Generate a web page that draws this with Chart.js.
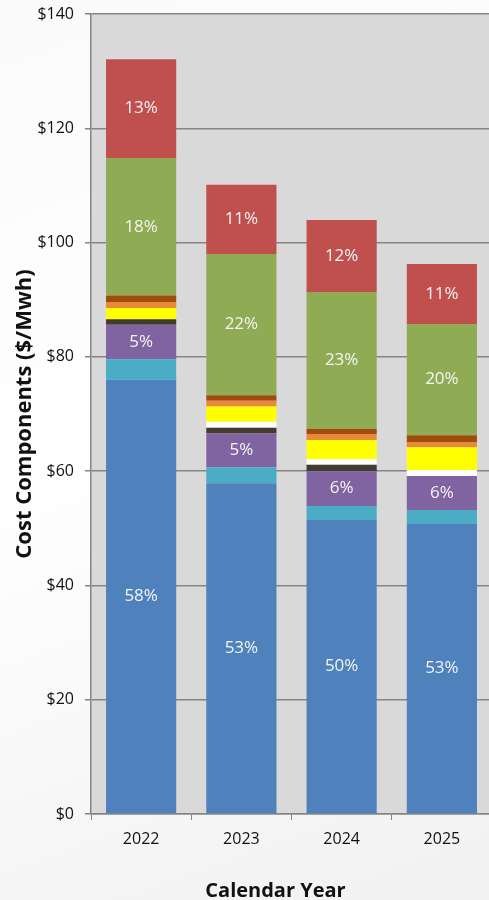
<!DOCTYPE html>
<html>
<head>
<meta charset="utf-8">
<script src="https://cdn.jsdelivr.net/npm/chart.js@4"></script>
<style>
html,body{margin:0;padding:0;overflow:hidden;}
body{width:489px;height:900px;background:linear-gradient(160deg,#fafafa 0%,#ffffff 45%,#f1f1f1 100%);}
#wrap{width:492px;height:900px;}
</style>
</head>
<body>
<div id="wrap"><canvas id="c" width="492" height="900"></canvas></div>
<script>
const years = ['2022', '2023', '2024', '2025'];
const yTickLabels = ['$0', '$20', '$40', '$60', '$80', '$100', '$120', '$140'];
const xTitle = 'Calendar Year';
const yTitle = 'Cost Components ($/Mwh)';

const blueVals   = [76.0, 57.9, 51.45, 50.75];
const tealVals   = [3.6, 2.8, 2.45, 2.45];
const purpleVals = [6.0, 5.9, 6.1, 5.95];
const darkVals   = [1.0, 1.0, 1.1, 0];
const whiteVals  = [0, 1.05, 1.0, 1.05];
const yellowVals = [1.95, 2.65, 3.35, 4.0];
const orangeVals = [1.05, 1.0, 1.05, 0.9];
const brownVals  = [1.15, 1.0, 0.9, 1.2];
const greenVals  = [24.05, 24.7, 23.95, 19.45];
const redVals    = [17.3, 12.1, 12.6, 10.5];

const blueLabels   = ['58%', '53%', '50%', '53%'];
const purpleLabels = ['5%', '5%', '6%', '6%'];
const greenLabels  = ['18%', '22%', '23%', '20%'];
const redLabels    = ['13%', '11%', '12%', '11%'];

const FONT = "'Open Sans', 'Liberation Sans', sans-serif";

function ds(label, data, color, labels) {
  return { label, data, backgroundColor: color, borderWidth: 0, pctLabels: labels || null,
           barPercentage: 0.7, categoryPercentage: 1.0, stack: 's' };
}

const plotBg = {
  id: 'plotBg',
  beforeDraw(chart) {
    const {ctx, chartArea: a} = chart;
    ctx.save();
    ctx.fillStyle = '#d9d9d9';
    ctx.fillRect(a.left, a.top, a.right - a.left, a.bottom - a.top);
    ctx.restore();
  }
};

const pctPlugin = {
  id: 'pct',
  afterDatasetsDraw(chart) {
    const ctx = chart.ctx;
    ctx.save();
    ctx.font = "17px " + FONT;
    ctx.fillStyle = '#f4f4f4';
    ctx.textAlign = 'center';
    ctx.textBaseline = 'middle';
    chart.data.datasets.forEach((d, i) => {
      if (!d.pctLabels) return;
      const meta = chart.getDatasetMeta(i);
      meta.data.forEach((el, j) => {
        const p = el.getCenterPoint();
        ctx.fillText(d.pctLabels[j], p.x, p.y);
      });
    });
    ctx.restore();
  }
};

const xTitlePlugin = {
  id: 'xTitle',
  afterDraw(chart) {
    const ctx = chart.ctx;
    const a = chart.chartArea;
    ctx.save();
    ctx.font = "bold 20px " + FONT;
    ctx.fillStyle = '#111';
    ctx.textAlign = 'center';
    ctx.textBaseline = 'middle';
    ctx.fillText(xTitle, a.left + 184.5, a.bottom + 77);
    ctx.restore();
  }
};

new Chart(document.getElementById('c'), {
  type: 'bar',
  data: {
    labels: years,
    datasets: [
      ds('Blue', blueVals, '#4f81bd', blueLabels),
      ds('Teal', tealVals, '#4bacc6'),
      ds('Purple', purpleVals, '#8064a2', purpleLabels),
      ds('Dark', darkVals, '#403c30'),
      ds('White', whiteVals, '#ffffff'),
      ds('Yellow', yellowVals, '#ffff00'),
      ds('Orange', orangeVals, '#e8893a'),
      ds('Brown', brownVals, '#a04c0c'),
      ds('Green', greenVals, '#8fac55', greenLabels),
      ds('Red', redVals, '#c0504d', redLabels)
    ]
  },
  options: {
    responsive: false,
    animation: false,
    devicePixelRatio: 1,
    layout: { padding: { top: 14, right: 0, left: 0, bottom: 0 } },
    plugins: { legend: { display: false }, tooltip: { enabled: false } },
    scales: {
      x: {
        stacked: true,
        offset: true,
        grid: { display: true, drawOnChartArea: false, drawTicks: true, tickLength: 6, color: '#858585', offset: true },
        border: { display: true, color: '#858585', width: 1.5 },
        ticks: { color: '#111', font: { size: 16, family: FONT }, padding: 10 },
        title: { display: false, text: xTitle },
        afterFit(s) { s.height = 86; s.paddingLeft = 0; s.paddingRight = 0; }
      },
      y: {
        stacked: true,
        min: 0, max: 140,
        ticks: { stepSize: 20, color: '#111', font: { size: 16, family: FONT }, padding: 11,
                 callback: (v, i) => yTickLabels[i] },
        grid: { color: '#858585', lineWidth: 1.5, tickLength: 6 },
        border: { display: true, color: '#858585', width: 1.5 },
        title: { display: true, text: yTitle, color: '#111',
                 font: { size: 22, weight: 'bold', family: FONT }, padding: { top: 12, bottom: 0 } },
        afterFit(s) { s.width = 91; s.paddingTop = 0; s.paddingBottom = 0; }
      }
    }
  },
  plugins: [plotBg, pctPlugin, xTitlePlugin]
});
</script>
</body>
</html>
